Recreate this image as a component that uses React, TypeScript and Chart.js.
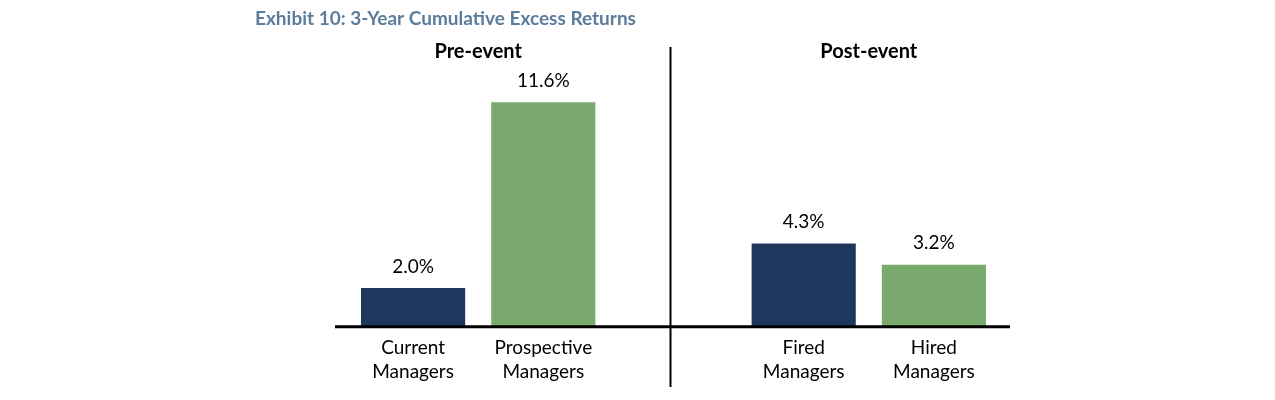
import { useEffect, useRef } from 'react';
import { Chart, registerables } from 'chart.js';

Chart.register(...registerables);

const title = 'Exhibit 10: 3-Year Cumulative Excess Returns';
const groups = ['Pre-event', 'Post-event'];
const categories = [
  ['Current', 'Managers'],
  ['Prospective', 'Managers'],
  '',
  ['Fired', 'Managers'],
  ['Hired', 'Managers'],
];
const values = [2.0, 11.6, null, 4.3, 3.2];

const NAVY = '#1e375d';
const GREEN = '#7aaa6d';
const TITLE_BLUE = '#5b7c9b';
const FONT = 'Lato, "Open Sans", sans-serif';

const annotations = {
  id: 'annotations',
  afterDraw(chart: any) {
    const { ctx, chartArea, scales } = chart;
    const x = scales.x;
    const y = scales.y;
    const base = y.getPixelForValue(0);
    ctx.save();

    // value labels above bars
    ctx.fillStyle = '#000';
    ctx.font = `19px ${FONT}`;
    ctx.textAlign = 'center';
    ctx.textBaseline = 'bottom';
    chart.getDatasetMeta(0).data.forEach((bar: any, i: number) => {
      const v = values[i];
      if (v == null) return;
      ctx.fillText(v.toFixed(1) + '%', bar.x, bar.y - 12);
    });

    // baseline
    ctx.strokeStyle = '#000';
    ctx.lineWidth = 3;
    ctx.beginPath();
    ctx.moveTo(chartArea.left - 13, base);
    ctx.lineTo(chartArea.right + 11, base);
    ctx.stroke();

    // divider between groups
    const mid = x.getPixelForValue(2) - 3;
    ctx.lineWidth = 2;
    ctx.beginPath();
    ctx.moveTo(mid, 47);
    ctx.lineTo(mid, 387);
    ctx.stroke();

    // group headers
    ctx.font = `bold 20px ${FONT}`;
    ctx.textBaseline = 'middle';
    const preX = (x.getPixelForValue(0) + x.getPixelForValue(1)) / 2;
    const postX = (x.getPixelForValue(3) + x.getPixelForValue(4)) / 2;
    ctx.fillText(groups[0], preX, 52);
    ctx.fillText(groups[1], postX, 52);

    // exhibit title
    ctx.fillStyle = TITLE_BLUE;
    ctx.font = `bold 19px ${FONT}`;
    ctx.textAlign = 'left';
    ctx.fillText(title, 255, 19);

    ctx.restore();
  },
};

export default function App() {
  const canvasRef = useRef<HTMLCanvasElement>(null);
  const chartRef = useRef<Chart | null>(null);

  useEffect(() => {
    if (!canvasRef.current) return;
    if (chartRef.current) chartRef.current.destroy();

    chartRef.current = new Chart(canvasRef.current, {
      type: 'bar',
      data: {
        labels: categories,
        datasets: [
          {
            data: values,
            backgroundColor: [NAVY, GREEN, NAVY, NAVY, GREEN],
            barPercentage: 0.8,
            categoryPercentage: 1.0,
          },
        ],
      },
      options: {
        animation: false,
        responsive: true,
        maintainAspectRatio: false,
        layout: {
          padding: { left: 348, right: 276, top: 77, bottom: 7 },
        },
        plugins: {
          legend: { display: false },
          tooltip: { enabled: false },
        },
        scales: {
          x: {
            grid: { display: false, drawTicks: false },
            border: { display: false },
            ticks: {
              color: '#000',
              padding: 10,
              maxRotation: 0,
              autoSkip: false,
              font: { family: FONT, size: 19, lineHeight: 1.22 },
            },
          },
          y: {
            display: false,
            min: 0,
            max: 12.9,
          },
        },
      },
      plugins: [annotations],
    });

    return () => {
      if (chartRef.current) {
        chartRef.current.destroy();
        chartRef.current = null;
      }
    };
  }, []);

  return (
    <div
      style={{
        position: 'fixed',
        left: 0,
        top: 0,
        width: 1275,
        height: 400,
        background: '#fff',
      }}
    >
      <canvas ref={canvasRef}></canvas>
    </div>
  );
}
